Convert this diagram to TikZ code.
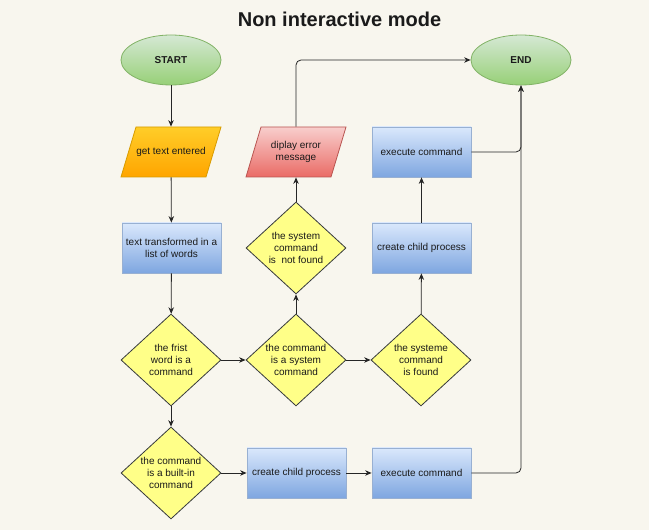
\documentclass[tikz,border=0pt]{standalone}
\usepackage{fontspec}
\setmainfont{Liberation Sans}
\usetikzlibrary{shapes.geometric,arrows.meta}
\definecolor{bgc}{HTML}{F8F6EE}
\definecolor{grT}{HTML}{D5E8D4}\definecolor{grB}{HTML}{97D077}\definecolor{grD}{HTML}{82B366}
\definecolor{blT}{HTML}{DAE8FC}\definecolor{blB}{HTML}{7EA6E0}\definecolor{blD}{HTML}{6C8EBF}
\definecolor{orT}{HTML}{FFCD28}\definecolor{orB}{HTML}{FFA500}\definecolor{orD}{HTML}{D79B00}
\definecolor{rdT}{HTML}{F8CECC}\definecolor{rdB}{HTML}{EA6B66}\definecolor{rdD}{HTML}{B85450}
\definecolor{ylF}{HTML}{FFFF88}\definecolor{ylD}{HTML}{36393D}
\definecolor{txt}{HTML}{1A1A1A}
\newcommand\paraShape[5]{%
  \shade[top color=#3, bottom color=#4, draw=#5, line width=0.8pt]
    (#1-50,#2-25) -- (#1+35,#2-25) -- (#1+50,#2+25) -- (#1-35,#2+25) -- cycle;}
\begin{document}
\begin{tikzpicture}[x=1pt,y=1pt,
  base/.style={font=\fontsize{10}{12}\selectfont, text=txt, align=center, line width=0.8pt},
  term/.style={base, ellipse, minimum width=100pt, minimum height=50pt, inner sep=0pt, top color=grT, bottom color=grB, draw=grD, font=\fontsize{10}{12}\selectfont\bfseries},
  proc/.style={base, rectangle, minimum width=99pt, minimum height=50pt, inner sep=1pt, top color=blT, bottom color=blB, draw=blD!70},
  para/.style={base, rectangle, minimum width=99pt, minimum height=50pt, inner sep=0pt},
  decide/.style={base, diamond, aspect=1.087, minimum width=100pt, minimum height=92pt, inner sep=-2pt, fill=ylF, draw=ylD},
  conn/.style={line width=0.8pt, draw=black!85, -{Stealth[length=6.5pt,width=5.5pt]}, rounded corners=5pt}
]
\useasboundingbox[fill=bgc] (0,0) rectangle (649,530);
\node[font=\fontsize{20}{24}\selectfont\bfseries, text=txt] (title) at (339.5,511) {Non interactive mode};

\node[term] (start) at (171,470) {START};
\node[term] (end) at (521,470) {END};

\paraShape{171}{378}{orT}{orB}{orD}
\node[para] (get) at (171,378) {get text entered};
\paraShape{296}{378}{rdT}{rdB}{rdD}
\node[para] (err) at (296,378) {diplay error\\message};
\node[proc] (ex1) at (421.5,378) {execute command};

\node[proc] (words) at (171.5,282) {text transformed in a\\list of words};
\node[decide] (nf) at (296,282) {the system\\command\\is\ \ not found};
\node[proc] (cc1) at (421.5,282) {create child process};

\node[decide] (first) at (171,170) {the frist\\word is a\\command};
\node[decide] (sys) at (296,170) {the command\\is a system\\command};
\node[decide] (found) at (421,170) {the systeme\\command\\is found};

\node[decide] (built) at (171,57) {the command\\is a built-in\\command};
\node[proc] (cc2) at (296.5,57) {create child process};
\node[proc] (ex2) at (421.5,57) {execute command};

\draw[conn] (start) -- (get);
\draw[conn] (get) -- (words);
\draw[conn] (words) -- (first);
\draw[conn] (first) -- (sys);
\draw[conn] (sys) -- (found);
\draw[conn] (sys) -- (nf);
\draw[conn] (nf) -- (err);
\draw[conn] (err.north) |- (end.west);
\draw[conn] (found) -- (cc1);
\draw[conn] (cc1) -- (ex1);
\draw[conn] (ex1.east) -| (end.south);
\draw[conn] (first) -- (built);
\draw[conn] (built) -- (cc2);
\draw[conn] (cc2) -- (ex2);
\draw[conn] (ex2.east) -| (end.south);
\end{tikzpicture}
\end{document}
